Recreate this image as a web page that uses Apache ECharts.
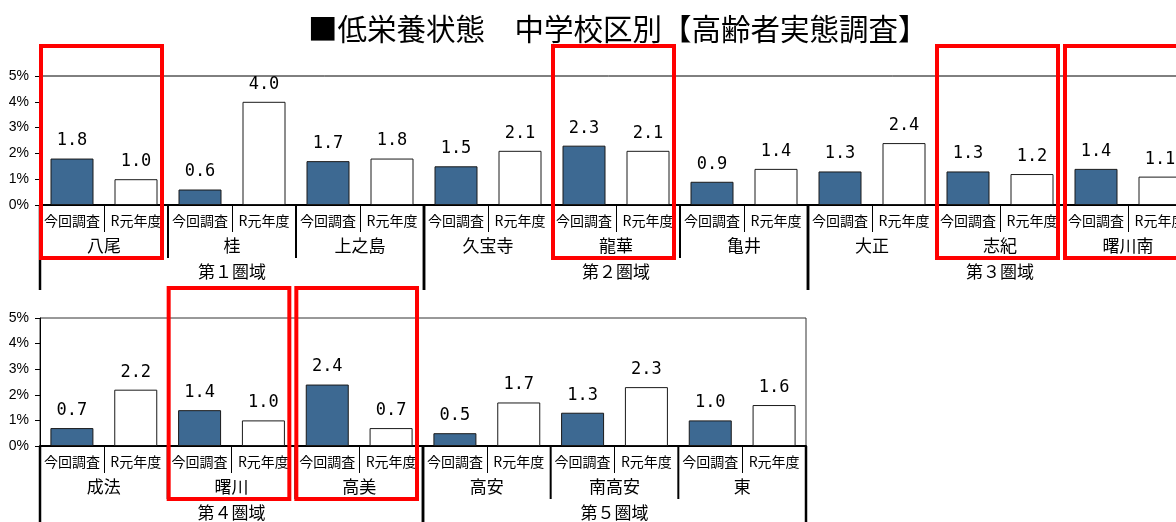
<!DOCTYPE html>
<html>
<head>
<meta charset="utf-8">
<script src="https://cdn.jsdelivr.net/npm/echarts@6/dist/echarts.min.js"></script>
<style>
  html, body { margin: 0; padding: 0; background: #fff; }
  #chart { width: 1176px; height: 522px; }
</style>
</head>
<body>
<div id="chart"></div>
<script>
// Chart text
const titleText = '■低栄養状態　中学校区別【高齢者実態調査】';
const seriesNames = ['今回調査', 'R元年度'];

// Upper row: schools, values (%) and areas
const topSchools = ['八尾', '桂', '上之島', '久宝寺', '龍華', '亀井', '大正', '志紀', '曙川南'];
const topCurrent = [1.8, 0.6, 1.7, 1.5, 2.3, 0.9, 1.3, 1.3, 1.4];
const topPrevious = [1.0, 4.0, 1.8, 2.1, 2.1, 1.4, 2.4, 1.2, 1.1];
const topAreas = ['第１圏域', '第２圏域', '第３圏域'];
const topAreaSizes = [3, 3, 3];
const topMarked = ['八尾', '龍華', '志紀', '曙川南'];

// Lower row
const bottomSchools = ['成法', '曙川', '高美', '高安', '南高安', '東'];
const bottomCurrent = [0.7, 1.4, 2.4, 0.5, 1.3, 1.0];
const bottomPrevious = [2.2, 1.0, 0.7, 1.7, 2.3, 1.6];
const bottomAreas = ['第４圏域', '第５圏域'];
const bottomAreaSizes = [3, 3];
const bottomMarked = ['曙川', '高美'];

// Value axis ticks
const yMin = 0, yMax = 5, yStep = 1;

const CJK = '"Noto Sans CJK JP", "Noto Sans", sans-serif';
const BLUE = '#3d6992';

// left / right edges of a span of sub-categories, and the zero line
function spanEdges(api) {
  const bw = api.size([1, 0])[0];
  const a = api.coord([api.value(0), 0]);
  const b = api.coord([api.value(2), 0]);
  return { x0: a[0] - bw / 2, x1: b[0] + bw / 2, y: a[1], top: api.coord([api.value(0), yMax])[1] };
}

function buildRow(ix, schools, cur, prev, areas, areaSizes, marked) {
  const cats = [];
  const curData = [], prevData = [];
  schools.forEach((s, i) => {
    cats.push(seriesNames[0], seriesNames[1]);
    curData.push(cur[i], '-');
    prevData.push('-', prev[i]);
  });
  const schoolSpans = schools.map((s, i) => [2 * i, 0, 2 * i + 1]);
  let acc = 0;
  const areaSpans = areaSizes.map(k => {
    const r = [2 * acc, 0, 2 * (acc + k) - 1];
    acc += k;
    return r;
  });
  const markSpans = marked.map(name => {
    const i = schools.indexOf(name);
    return [2 * i, 0, 2 * i + 1];
  });

  const xAxis = {
    type: 'category', gridIndex: ix, data: cats,
    axisLine: { show: true, lineStyle: { color: '#000', width: 2 } },
    axisTick: { show: true, interval: 0, length: 27, lineStyle: { color: '#000', width: 1 } },
    axisLabel: { interval: 0, margin: 9, color: '#000', fontSize: 14, fontFamily: CJK },
    splitLine: { show: false }
  };
  const yAxis = {
    type: 'value', gridIndex: ix, min: yMin, max: yMax, interval: yStep,
    axisLine: { show: true, lineStyle: { color: '#000', width: 1 } },
    axisTick: { show: true, length: 5, lineStyle: { color: '#000' } },
    axisLabel: { formatter: '{value}%', color: '#000', fontSize: 14, margin: 11,
                 fontFamily: '"Liberation Sans Narrow", "Liberation Sans", Arial, sans-serif' },
    splitLine: { show: false }
  };
  const label = {
    show: true, position: 'top', distance: 9, color: '#000',
    fontSize: 17, fontFamily: '"DejaVu Sans Mono", monospace',
    formatter: p => Number(p.value).toFixed(1)
  };
  const series = [
    { type: 'bar', name: seriesNames[0], xAxisIndex: ix, yAxisIndex: ix, data: curData,
      barWidth: 43, barGap: '-100%',
      itemStyle: { color: BLUE, borderColor: '#1a1a1a', borderWidth: 1 }, label },
    { type: 'bar', name: seriesNames[1], xAxisIndex: ix, yAxisIndex: ix, data: prevData,
      barWidth: 43, barGap: '-100%',
      itemStyle: { color: '#fff', borderColor: '#1a1a1a', borderWidth: 1 }, label },
    // school names and their dividers
    { type: 'custom', xAxisIndex: ix, yAxisIndex: ix, clip: false, silent: true, z: 5,
      data: schoolSpans, encode: { x: 0, y: 1 },
      renderItem: (params, api) => {
        const e = spanEdges(api);
        return { type: 'group', children: [
          { type: 'text', style: { text: schools[params.dataIndex], x: (e.x0 + e.x1) / 2, y: e.y + 41,
            align: 'center', verticalAlign: 'middle', fontSize: 17, fontFamily: CJK, fill: '#000' } },
          { type: 'line', shape: { x1: e.x0, y1: e.y, x2: e.x0, y2: e.y + 53 },
            style: { stroke: '#000', lineWidth: 2 } }
        ] };
      } },
    // area names and their dividers
    { type: 'custom', xAxisIndex: ix, yAxisIndex: ix, clip: false, silent: true, z: 5,
      data: areaSpans, encode: { x: 0, y: 1 },
      renderItem: (params, api) => {
        const e = spanEdges(api);
        return { type: 'group', children: [
          { type: 'text', style: { text: areas[params.dataIndex], x: (e.x0 + e.x1) / 2, y: e.y + 67,
            align: 'center', verticalAlign: 'middle', fontSize: 17, fontFamily: CJK, fill: '#000' } },
          { type: 'line', shape: { x1: e.x0, y1: e.y, x2: e.x0, y2: e.y + 85 },
            style: { stroke: '#000', lineWidth: 2.5 } },
          { type: 'line', shape: { x1: e.x1, y1: e.y, x2: e.x1, y2: e.y + 85 },
            style: { stroke: '#000', lineWidth: 2.5 } }
        ] };
      } },
    // red frames around highlighted schools
    { type: 'custom', xAxisIndex: ix, yAxisIndex: ix, clip: false, silent: true, z: 10,
      data: markSpans, encode: { x: 0, y: 1 },
      renderItem: (params, api) => {
        const e = spanEdges(api);
        const y0 = e.top - 30, y1 = e.y + 53;
        return { type: 'rect', shape: { x: e.x0 + 1, y: y0, width: (e.x1 - 6) - (e.x0 + 1), height: y1 - y0 },
          style: { stroke: '#ff0000', lineWidth: 4, fill: null } };
      } }
  ];
  return { xAxis, yAxis, series };
}

const rowTop = buildRow(0, topSchools, topCurrent, topPrevious, topAreas, topAreaSizes, topMarked);
const rowBottom = buildRow(1, bottomSchools, bottomCurrent, bottomPrevious, bottomAreas, bottomAreaSizes, bottomMarked);

const chart = echarts.init(document.getElementById('chart'), null, { renderer: 'canvas' });
chart.setOption({
  animation: false,
  backgroundColor: '#fff',
  title: {
    text: titleText, left: 303, top: 9,
    textStyle: { fontSize: 29.5, fontWeight: 'normal', color: '#000', fontFamily: CJK }
  },
  grid: [
    { left: 40, top: 76, width: 1152, height: 129, show: true, borderColor: '#000', borderWidth: 1,
      outerBoundsMode: 'none' },
    { left: 40, top: 318, width: 766, height: 128, show: true, borderColor: '#333', borderWidth: 1,
      outerBoundsMode: 'none' }
  ],
  xAxis: [rowTop.xAxis, rowBottom.xAxis],
  yAxis: [rowTop.yAxis, rowBottom.yAxis],
  series: rowTop.series.concat(rowBottom.series)
});
</script>
</body>
</html>
